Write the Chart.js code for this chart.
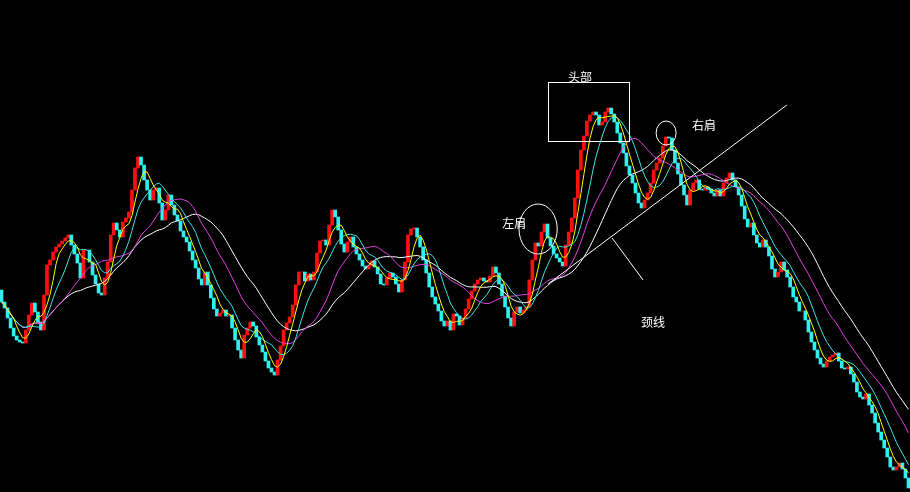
<!DOCTYPE html>
<html>
<head>
<meta charset="utf-8">
<style>
  html, body { margin: 0; padding: 0; background: #000; }
  #wrap { width: 910px; height: 492px; }
</style>
<script src="https://cdn.jsdelivr.net/npm/chart.js@4.4.0/dist/chart.umd.min.js"></script>
</head>
<body>
<div id="wrap"><canvas id="chart"></canvas></div>
<script>
// closing prices, one per candle (left to right)
const closes = [
  198,192,182,172,164,160,158,157,170,185, 197,188,178,170,205,235,240,248,253,256,
  259,262,265,255,246,237,222,250,250,238, 225,216,207,205,222,238,265,277,270,263,
  278,282,288,310,332,343,335,320,310,300, 310,312,297,280,290,305,295,285,279,269,
  263,258,249,240,232,221,215,228,215,202, 191,184,187,190,184,185,172,160,150,142,
  165,172,178,174,163,155,148,139,132,128, 125,140,154,170,177,183,195,215,228,228,
  219,226,220,228,247,259,260,255,275,290, 283,270,256,248,258,263,253,246,240,234,
  231,234,239,233,226,216,215,222,227,223, 216,208,220,238,265,271,272,263,253,240,
  227,213,203,196,189,179,174,179,170,186, 184,175,182,191,201,209,216,220,222,219,
  218,224,233,227,216,204,193,182,174,188, 193,187,190,193,220,240,257,254,268,276,
  262,254,246,242,238,234,255,268,282,302, 330,350,364,379,385,388,385,375,378,388,
  392,386,378,367,357,347,334,325,317,307, 297,292,300,307,317,330,337,342,354,363,
  362,350,337,326,315,305,295,310,317,320, 311,310,313,311,307,304,310,304,317,322,
  327,320,313,305,294,281,273,277,265,257, 253,260,253,244,231,223,228,238,230,223,
  213,203,198,189,189,180,168,158,150,142, 136,133,139,143,145,147,139,132,131,133,
  126,118,108,103,101,106,95,87,77,68, 60,52,43,33,30,33,37,31,22,12
];
const firstOpen = 210;
const maPeriods = [5, 10, 20, 30];
const maColors = ['#ffff00', '#40e4e4', '#e040e0', '#ffffff'];

// annotations, in candle index / price units
const neckline = [[180.2, 216], [258.9, 395]];
const neckPointer = [[201.3, 262], [211.5, 220]];
const headBox = [180.2, 418, 206.9, 359];
const leftShoulder = [176.9, 271, 6.3, 25];
const rightShoulder = [219.1, 367, 3.3, 12];
const labels = [
  ['头部', 190.7, 423],
  ['左肩', 169.0, 277],
  ['右肩', 231.6, 375],
  ['颈线', 214.8, 178]
];

const opens = closes.map((c, i) => i === 0 ? firstOpen : closes[i - 1]);
const candleColors = closes.map((c, i) => c >= opens[i] ? '#ff1010' : '#30f0f0');

function movingAverage(n) {
  return closes.map((c, i) => {
    const from = Math.max(0, i - n + 1);
    let sum = 0;
    for (let k = from; k <= i; k++) sum += closes[k];
    return sum / (i - from + 1);
  });
}

const lineSets = maPeriods.map((n, j) => ({
  type: 'line',
  label: 'MA' + n,
  data: movingAverage(n),
  borderColor: maColors[j],
  borderWidth: 1,
  pointRadius: 0,
  tension: 0,
  order: 1
}));

const notes = {
  id: 'notes',
  afterDatasetsDraw(chart) {
    const {ctx, scales: {x, y}} = chart;
    const px = v => x.getPixelForValue(v);
    const py = v => y.getPixelForValue(v);
    ctx.save();
    ctx.strokeStyle = '#ffffff';
    ctx.lineWidth = 1;

    [neckline, neckPointer].forEach(seg => {
      ctx.beginPath();
      ctx.moveTo(px(seg[0][0]), py(seg[0][1]));
      ctx.lineTo(px(seg[1][0]), py(seg[1][1]));
      ctx.stroke();
    });

    const bx = px(headBox[0]), by = py(headBox[1]);
    ctx.strokeRect(Math.round(bx) + 0.5, Math.round(by) + 0.5,
      Math.round(px(headBox[2]) - bx), Math.round(py(headBox[3]) - by));

    [leftShoulder, rightShoulder].forEach(e => {
      const cx = px(e[0]), cy = py(e[1]);
      const rx = px(e[0] + e[2]) - cx, ry = py(e[1] - e[3]) - cy;
      ctx.beginPath();
      ctx.ellipse(cx, cy, rx, ry, 0, 0, Math.PI * 2);
      ctx.stroke();
    });

    ctx.fillStyle = '#ffffff';
    ctx.font = '12px "Noto Sans CJK SC", sans-serif';
    ctx.textAlign = 'center';
    ctx.textBaseline = 'middle';
    labels.forEach(l => ctx.fillText(l[0], px(l[1]), py(l[2])));
    ctx.restore();
  }
};

new Chart(document.getElementById('chart'), {
  type: 'bar',
  data: {
    labels: closes.map((c, i) => i),
    datasets: [{
      label: 'K',
      data: closes.map((c, i) => [opens[i], c]),
      backgroundColor: candleColors,
      barThickness: 3,
      borderWidth: 0,
      order: 10
    }].concat(lineSets)
  },
  options: {
    responsive: true,
    maintainAspectRatio: false,
    animation: false,
    devicePixelRatio: 1,
    layout: { padding: 0 },
    plugins: { legend: { display: false }, tooltip: { enabled: false } },
    scales: {
      x: { display: false, offset: true, grid: { display: false } },
      y: { display: false, min: 8, max: 500 }
    }
  },
  plugins: [notes]
});
</script>
</body>
</html>
